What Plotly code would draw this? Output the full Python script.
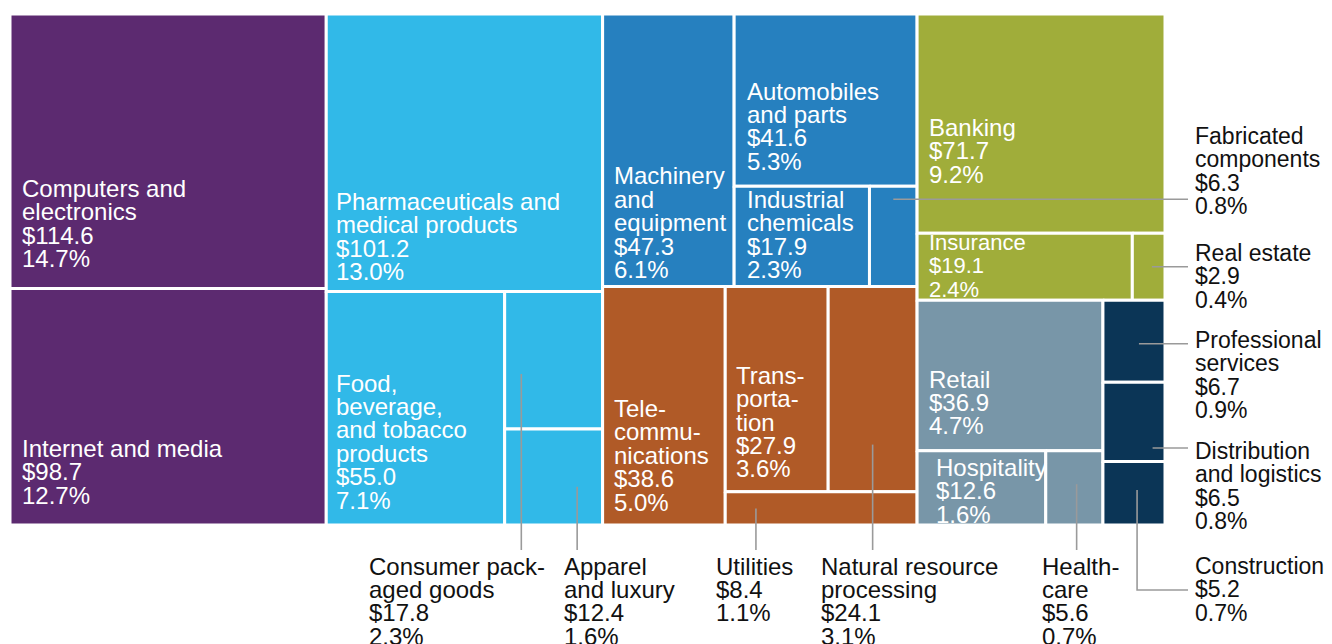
import plotly.graph_objects as go

# treemap data, $ billions; groups have value None and get the sum of their children
ids = [
    "tech", "Computers and electronics", "Internet and media",
    "consumer", "Pharmaceuticals and medical products", "consumer_b",
    "Food, beverage, and tobacco products", "consumer_br", "Consumer packaged goods", "Apparel and luxury",
    "industry", "materials", "Machinery and equipment", "materials_r", "Automobiles and parts",
    "materials_rb", "Industrial chemicals", "Fabricated components",
    "infra", "Telecommunications", "infra_r", "infra_rt", "Transportation",
    "Natural resource processing", "Utilities",
    "services", "Banking", "finance_b", "Insurance", "Real estate",
    "services_b", "local", "Retail", "local_b", "Hospitality", "Healthcare",
    "business", "Professional services", "Distribution and logistics", "Construction",
]
parents = [
    "", "tech", "tech",
    "", "consumer", "consumer",
    "consumer_b", "consumer_b", "consumer_br", "consumer_br",
    "", "industry", "materials", "materials", "materials_r",
    "materials_r", "materials_rb", "materials_rb",
    "industry", "infra", "infra", "infra_r", "infra_rt",
    "infra_rt", "infra_r",
    "", "services", "services", "finance_b", "finance_b",
    "services", "services_b", "local", "local", "local_b", "local_b",
    "services_b", "business", "business", "business",
]
values = [
    None, 114.6, 98.7,
    None, 101.2, None,
    55.0, None, 17.8, 12.4,
    None, None, 47.3, None, 41.6,
    None, 17.9, 6.3,
    None, 38.6, None, None, 27.9,
    24.1, 8.4,
    None, 71.7, None, 19.1, 2.9,
    None, None, 36.9, None, 12.6, 5.6,
    None, 6.7, 6.5, 5.2,
]
shares = {
    "Computers and electronics": 14.7, "Internet and media": 12.7,
    "Pharmaceuticals and medical products": 13.0, "Food, beverage, and tobacco products": 7.1,
    "Consumer packaged goods": 2.3, "Apparel and luxury": 1.6,
    "Machinery and equipment": 6.1, "Automobiles and parts": 5.3,
    "Industrial chemicals": 2.3, "Fabricated components": 0.8,
    "Telecommunications": 5.0, "Transportation": 3.6,
    "Natural resource processing": 3.1, "Utilities": 1.1,
    "Banking": 9.2, "Insurance": 2.4, "Real estate": 0.4,
    "Retail": 4.7, "Hospitality": 1.6, "Healthcare": 0.7,
    "Professional services": 0.9, "Distribution and logistics": 0.8, "Construction": 0.7,
}
display = {
    "Computers and electronics": ["Computers and", "electronics"],
    "Internet and media": ["Internet and media"],
    "Pharmaceuticals and medical products": ["Pharmaceuticals and", "medical products"],
    "Food, beverage, and tobacco products": ["Food,", "beverage,", "and tobacco", "products"],
    "Consumer packaged goods": ["Consumer pack-", "aged goods"],
    "Apparel and luxury": ["Apparel", "and luxury"],
    "Machinery and equipment": ["Machinery", "and", "equipment"],
    "Automobiles and parts": ["Automobiles", "and parts"],
    "Industrial chemicals": ["Industrial", "chemicals"],
    "Fabricated components": ["Fabricated", "components"],
    "Telecommunications": ["Tele-", "commu-", "nications"],
    "Transportation": ["Trans-", "porta-", "tion"],
    "Natural resource processing": ["Natural resource", "processing"],
    "Utilities": ["Utilities"],
    "Banking": ["Banking"], "Insurance": ["Insurance"], "Real estate": ["Real estate"],
    "Retail": ["Retail"], "Hospitality": ["Hospitality"], "Healthcare": ["Health-", "care"],
    "Professional services": ["Professional", "services"],
    "Distribution and logistics": ["Distribution", "and logistics"],
    "Construction": ["Construction"],
}
group_colors = {
    "tech": "#5C2A70", "consumer": "#31B9E8", "materials": "#2680BF", "infra": "#B05A27",
    "Banking": "#A0AD3A", "finance_b": "#A0AD3A", "local": "#7896A8", "business": "#0B3556",
}

# ---- styling / placement (pixels in the screenshot) ----
X0, X1, Y0, Y1 = 10, 1165, 14, 525
W, H = 1332, 644
BODY = 8      # page margin around the figure
TPAD = 2      # annotation box padding
LINE = 23.4
FONT = "Arial, Liberation Sans, sans-serif"
GREY = "#9A9A9A"

# labels inside cells: (gap from cell bottom to last line centre, left pad, font size)
inner = {
    "Computers and electronics": (30, 12, 24), "Internet and media": (30, 12, 24),
    "Pharmaceuticals and medical products": (20, 10, 24),
    "Food, beverage, and tobacco products": (25, 10, 24),
    "Machinery and equipment": (17, 11, 24), "Automobiles and parts": (25, 13, 24),
    "Industrial chemicals": (17, 13, 24), "Telecommunications": (23, 11, 24),
    "Transportation": (23, 11, 24), "Banking": (59, 12, 24), "Insurance": (11, 12, 22),
    "Retail": (25, 12, 24), "Hospitality": (11, 19, 24),
}
# labels outside: text left x, first line centre y, font size, leader start (fraction of cell), leader moves
outer = {
    "Fabricated components": (1195, 136, 23, (0.5, 0.13), [("h", 1188)]),
    "Real estate": (1195, 253, 23, (0.6, 0.5), [("h", 1188)]),
    "Professional services": (1195, 340, 23, (0.58, 0.53), [("h", 1188)]),
    "Distribution and logistics": (1195, 451, 23, (0.8, 0.83), [("h", 1188)]),
    "Construction": (1195, 566, 23, (0.55, 0.45), [("v", 590), ("h", 1188)]),
    "Healthcare": (1042, 566, 24, (0.54, 0.45), [("v", 550)]),
    "Natural resource processing": (821, 566, 24, (0.5, 0.77), [("v", 550)]),
    "Utilities": (716, 566, 24, (0.16, 0.5), [("v", 550)]),
    "Apparel and luxury": (564, 566, 24, (0.74, 0.6), [("v", 550)]),
    "Consumer packaged goods": (369, 566, 24, (0.17, 0.6), [("v", 550)]),
}

children = {i: [] for i in ids + [""]}
for i, p in zip(ids, parents):
    children[p].append(i)
val = dict(zip(ids, values))


def total(n):
    if n != "" and val[n] is not None:
        return val[n]
    return sum(total(c) for c in children[n])


rects = {}


def tile(n, x0, y0, x1, y1, depth):
    # slice-and-dice: even depth splits across, odd depth splits down
    rects[n] = (x0, y0, x1, y1)
    kids = children[n]
    if not kids:
        return
    t = total(n)
    pos = x0 if depth % 2 == 0 else y0
    for k in kids:
        f = total(k) / t
        if depth % 2 == 0:
            w = (x1 - x0) * f
            tile(k, pos, y0, pos + w, y1, depth + 1)
            pos += w
        else:
            h = (y1 - y0) * f
            tile(k, x0, pos, x1, pos + h, depth + 1)
            pos += h


tile("", X0, Y0, X1, Y1, 0)


def color_of(n):
    while n:
        if n in group_colors:
            return group_colors[n]
        n = parents[ids.index(n)]
    return "#888"


def px(x):
    return (x - X0) / (X1 - X0)


def py(y):
    return (Y1 - y) / (Y1 - Y0)


fig = go.Figure()
leaves = [n for n in ids if val[n] is not None]
for n in leaves:
    x0, y0, x1, y1 = rects[n]
    fig.add_trace(go.Scatter(
        x=[x0, x1, x1, x0, x0], y=[y0, y0, y1, y1, y0], mode="lines", fill="toself",
        fillcolor=color_of(n), line=dict(color="white", width=3), name=n,
        hoveron="fills", text=f"{n}<br>${val[n]:.1f} ({shares[n]:.1f}%)", hoverinfo="text",
        showlegend=False))

annotations = []
shapes = []
for n in leaves:
    lines = display[n] + [f"${val[n]:.1f}", f"{shares[n]:.1f}%"]
    x0, y0, x1, y1 = rects[n]
    if n in inner:
        gap, pad, size = inner[n]
        for i, s in enumerate(lines):
            yc = y1 - gap - (len(lines) - 1 - i) * LINE
            annotations.append(dict(x=x0 + pad - TPAD, y=yc, xref="x", yref="y", text=s, showarrow=False,
                                    xanchor="left", yanchor="middle",
                                    font=dict(family=FONT, size=size, color="white")))
    elif n in outer:
        tx, ty, size, (fx, fy), moves = outer[n]
        for i, s in enumerate(lines):
            annotations.append(dict(x=px(tx - TPAD), y=py(ty + i * LINE), xref="paper", yref="paper",
                                    text=s, showarrow=False, xanchor="left", yanchor="middle",
                                    font=dict(family=FONT, size=size, color="#111111")))
        cx, cy = x0 + fx * (x1 - x0), y0 + fy * (y1 - y0)
        path = f"M {px(cx)},{py(cy)}"
        for d, v in moves:
            if d == "h":
                cx = v
            else:
                cy = v
            path += f" L {px(cx)},{py(cy)}"
        shapes.append(dict(type="path", path=path, xref="paper", yref="paper",
                           line=dict(color=GREY, width=1.6)))

fig.update_layout(
    width=W, height=H,
    margin=dict(l=X0 - BODY, r=W - (X1 - BODY), t=Y0 - BODY, b=H - (Y1 - BODY)),
    paper_bgcolor="white", plot_bgcolor="white",
    xaxis=dict(range=[X0, X1], visible=False, fixedrange=True),
    yaxis=dict(range=[Y1, Y0], visible=False, fixedrange=True),
    annotations=annotations, shapes=shapes, showlegend=False,
)
fig.write_html("out.html")
